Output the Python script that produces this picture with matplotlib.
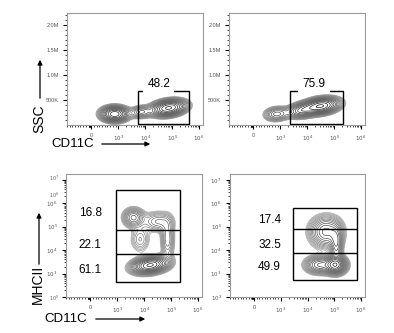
import numpy as np
import matplotlib
matplotlib.use('Agg')
import matplotlib.pyplot as plt
from matplotlib.patches import Rectangle, FancyArrowPatch

plt.rcParams['font.family'] = ['Liberation Sans', 'DejaVu Sans']

W, H = 394, 333

# gate frequencies (%)
ssc_gate_pct = [48.2, 75.9]
mhc_gate_pct = [[16.8, 22.1, 61.1], [17.4, 32.5, 49.9]]

# gate bounds: CD11C (low, high) and SSC / MHCII edges
ssc_gate_x = [(5.6e3, 4.3e5), (2.4e3, 2.2e5)]
ssc_gate_y = [(2.0e4, 6.8e5), (3.0e4, 6.8e5)]
mhc_gate_x = [(9.5e2, 2.2e5), (2.8e3, 7.0e5)]
mhc_gate_y = [(10**2.64, 10**3.82, 10**4.84, 10**6.58),
              (10**2.73, 10**3.88, 10**4.90, 10**5.80)]

# where the percentage labels sit (CD11C, y)
ssc_label_at = [(3.2e4, 8.2e5), (1.8e4, 8.2e5)]
mhc_label_x = [0, 580]
mhc_label_y = [(10**5.6, 10**4.2, 10**3.14), (10**5.29, 10**4.22, 10**3.28)]

# cell populations: CD11C centre, y centre, spread x (px), spread y (px), weight, tilt (deg)
ssc_pops = [
    [(870, 2.2e5, 7.5, 4.2, 1.0, 0), (7.1e3, 2.6e5, 6, 3.5, 0.3, 5),
     (7.4e4, 3.4e5, 9.5, 4.3, 1.1, 8)],
    [(870, 2.2e5, 7, 4.0, 0.3, 5), (6.0e3, 2.9e5, 8, 4.0, 0.5, 8),
     (3.2e4, 3.8e5, 10, 4.3, 1.0, 8)],
]
mhc_pops = [
    [(1.66e4, 10**3.36, 10, 4.5, 1.2, 8), (4.0e3, 10**5.39, 6, 5.5, 0.4, 0),
     (3.2e4, 10**5.22, 9, 6, 0.22, 0), (7.4e4, 10**4.46, 4, 12, 0.25, 0),
     (7.1e3, 10**4.46, 6, 8, 0.15, 0)],
    [(1.1e5, 10**3.37, 6, 5, 1.0, 0), (2.7e4, 10**3.37, 8, 5, 0.5, 0),
     (4.9e4, 10**4.78, 9.5, 9, 0.45, 0), (1.2e5, 10**4.22, 3.5, 10, 0.35, 0)],
]

fig = plt.figure(figsize=(W / 100, H / 100), dpi=100)


def rect(x0, y0, x1, y1):
    return [x0 / W, 1 - y1 / H, (x1 - x0) / W, (y1 - y0) / H]


def cd11c_axis(ax, xlim=(-800, 1.4e6)):
    ax.set_xscale('symlog', linthresh=1e3, linscale=0.9)
    ax.set_xlim(*xlim)
    ax.set_xticks([0, 1e3, 1e4, 1e5, 1e6])
    ax.set_xticklabels(['0', '$10^3$', '$10^4$', '$10^5$', '$10^6$'])
    minor = list(np.arange(-900, 0, 100)) + list(np.arange(-90, 0, 10)) + \
        list(np.arange(100, 1000, 100))
    for d in [1e3, 1e4, 1e5]:
        minor += [k * d for k in range(2, 10)]
    ax.set_xticks(minor, minor=True)


def style(ax):
    for s in ax.spines.values():
        s.set_color('#9a9a9a')
        s.set_linewidth(0.8)
    ax.tick_params(which='major', length=3, width=0.8, labelsize=4,
                   labelcolor='#555555', pad=3)
    ax.tick_params(which='minor', length=1.5, width=0.5)


def density(ax, pops, n=240):
    fx, fy = np.meshgrid(np.linspace(0, 1, n), np.linspace(0, 1, n))
    disp = ax.transAxes.transform(np.column_stack([fx.ravel(), fy.ravel()]))
    data = ax.transData.inverted().transform(disp)
    Z = np.zeros(len(disp))
    for cx, cy, sx, sy, w, ang in pops:
        c = ax.transData.transform([(cx, cy)])[0]
        dx, dy = disp[:, 0] - c[0], disp[:, 1] - c[1]
        t = np.deg2rad(ang)
        a = dx * np.cos(t) + dy * np.sin(t)
        b = -dx * np.sin(t) + dy * np.cos(t)
        Z += w * np.exp(-0.5 * ((a / sx) ** 2 + (b / sy) ** 2))
    return (data[:, 0].reshape(fx.shape), data[:, 1].reshape(fx.shape),
            Z.reshape(fx.shape))


def contours(ax, pops, nlev=16, shade=(0.6, 0.1)):
    X, Y, Z = density(ax, pops)
    levels = Z.max() * np.geomspace(0.04, 0.95, nlev)
    cols = plt.cm.gray(np.linspace(shade[0], shade[1], len(levels)))
    ax.contour(X, Y, Z, levels=levels, colors=cols, linewidths=0.5)


# SSC vs CD11C
for i, (x0, x1) in enumerate([(67, 203), (229, 365)]):
    ax = fig.add_axes(rect(x0, 13, x1, 125))
    cd11c_axis(ax)
    ax.set_ylim(0, 2.24e6)
    ax.set_yticks([5e5, 1e6, 1.5e6, 2e6])
    ax.set_yticklabels(['500K', '1.0M', '1.5M', '2.0M'])
    ax.set_yticks(np.arange(1e5, 2.24e6, 1e5), minor=True)
    style(ax)
    contours(ax, ssc_pops[i])
    gx, gy = ssc_gate_x[i], ssc_gate_y[i]
    ax.add_patch(Rectangle((gx[0], gy[0]), gx[1] - gx[0], gy[1] - gy[0],
                           fill=False, ec='black', lw=1.0, zorder=3))
    lx, ly = ssc_label_at[i]
    ax.text(lx, ly, f'{ssc_gate_pct[i]}', ha='center', va='center', fontsize=8.5,
            zorder=4, bbox=dict(fc='white', ec='none', pad=3))

# MHCII vs CD11C
for i, (x0, x1) in enumerate([(66, 202), (230, 365)]):
    ax = fig.add_axes(rect(x0, 174, x1, 297))
    cd11c_axis(ax)
    ax.set_yscale('log')
    ax.set_ylim(1e2, 10**7.25)
    ax.set_yticks([1e2, 1e3, 1e4, 1e5, 1e6, 1e7])
    ax.set_yticklabels(['$10^2$', '$10^3$', '$10^4$', '$10^5$', '$10^6$', '$10^7$'])
    ax.set_yticks([k * 10**e for e in range(2, 7) for k in range(2, 10)], minor=True)
    style(ax)
    contours(ax, mhc_pops[i], nlev=18, shade=(0.65, 0.15))
    gx, gy = mhc_gate_x[i], mhc_gate_y[i]
    ax.add_patch(Rectangle((gx[0], gy[0]), gx[1] - gx[0], gy[3] - gy[0],
                           fill=False, ec='black', lw=1.0, zorder=3))
    ax.hlines([gy[1], gy[2]], gx[0], gx[1], colors='black', lw=1.0, zorder=3)
    for pct, ly in zip(mhc_gate_pct[i], mhc_label_y[i]):
        ax.text(mhc_label_x[i], ly, f'{pct}', ha='center', va='center', fontsize=8.5)
    if i == 0:
        # the left plot carries a second, offset MHCII scale printed over the first
        ax.set_yticklabels(['', '$10^3$', '$10^4$', '$10^5$', '$10^6$', ''])
        ov = fig.add_axes(rect(x0, 174, x1, 298), frameon=False)
        ov.patch.set_visible(False)
        ov.set_xticks([])
        ov.set_yscale('log')
        ov.set_ylim(10**-0.06, 10**7.18)
        ov.set_yticks([1, 1e6, 1e7])
        ov.set_yticklabels(['$10^0$', '$10^6$', '$10^7$'])
        ov.set_yticks([], minor=True)
        ov.tick_params(length=0, labelsize=3.6, labelcolor='#666666', pad=5)

# axis names with arrows
arrow = dict(arrowstyle='-|>', color='black', lw=0.9, mutation_scale=7)
fig.text(39 / W, 1 - 119 / H, 'SSC', rotation=90, ha='center', va='center', fontsize=10)
fig.text(73 / W, 1 - 144 / H, 'CD11C', ha='center', va='center', fontsize=9.5)
fig.text(38 / W, 1 - 284 / H, 'MHCII', rotation=90, ha='center', va='center', fontsize=10)
fig.text(66 / W, 1 - 319 / H, 'CD11C', ha='center', va='center', fontsize=9.5)
for (xa, ya), (xb, yb) in [((40, 101), (40, 57)), ((99, 144), (153, 144)),
                           ((39, 267), (39, 210)), ((93, 319), (148, 319))]:
    fig.add_artist(FancyArrowPatch((xa / W, 1 - ya / H), (xb / W, 1 - yb / H),
                                   transform=fig.transFigure, **arrow))

fig.savefig('out.png', dpi=100)
